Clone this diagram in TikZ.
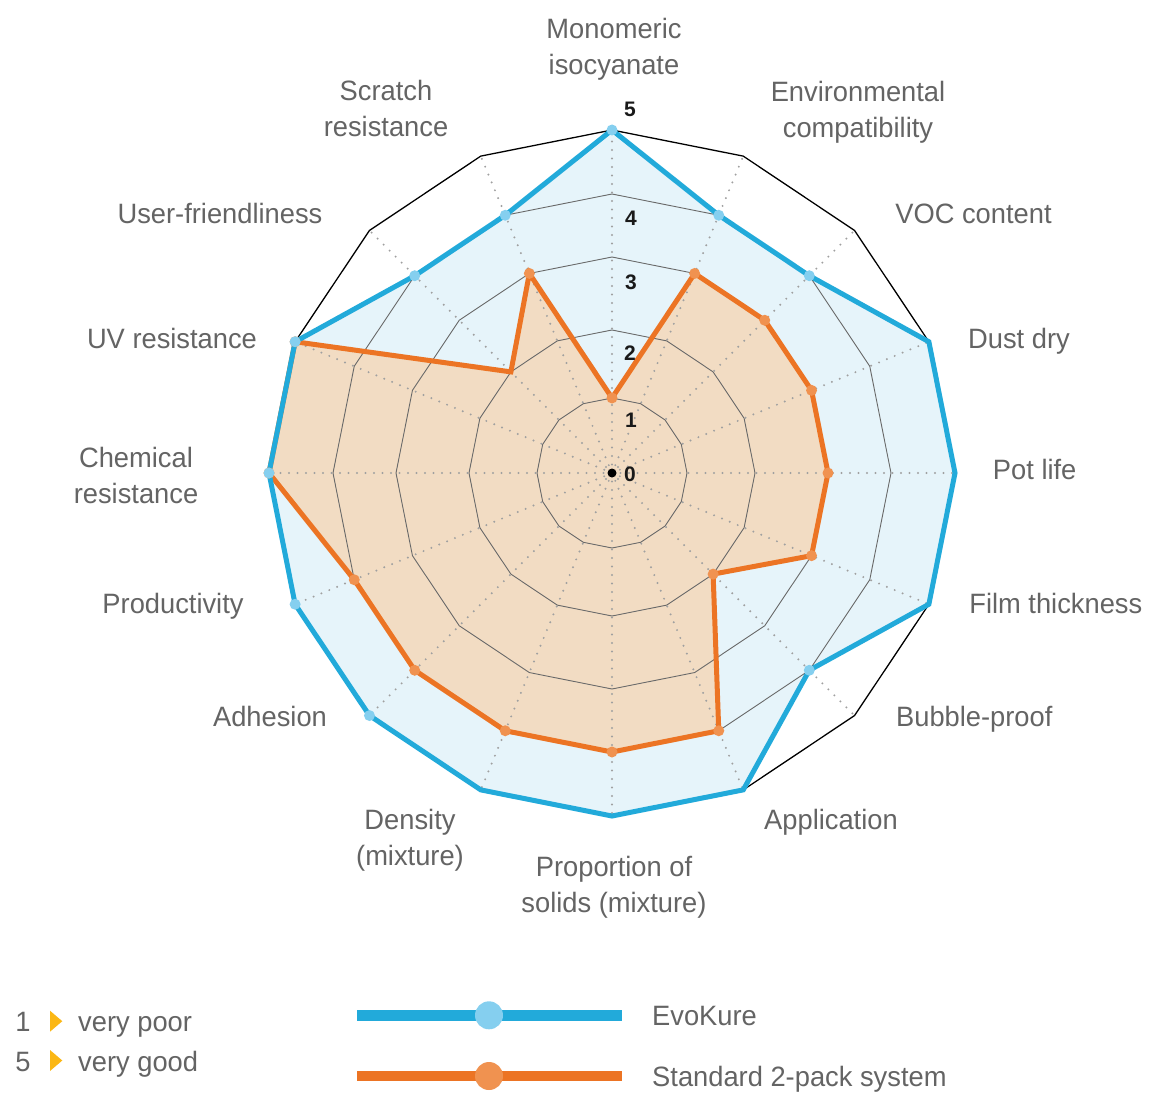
\documentclass[tikz,border=0pt]{standalone}
\usepackage{fontspec}
\setmainfont{Liberation Sans}
\newfontfamily\lblfont{Liberation Sans}[FakeStretch=0.975]
\newfontfamily\numfont{Liberation Sans}
\definecolor{bline}{RGB}{34,170,218}
\definecolor{bmark}{RGB}{133,207,239}
\definecolor{bfill}{RGB}{230,244,250}
\definecolor{oline}{RGB}{236,116,36}
\definecolor{omark}{RGB}{240,146,80}
\definecolor{ofill}{RGB}{242,220,195}
\definecolor{txt}{RGB}{100,100,100}
\definecolor{tri}{RGB}{251,183,20}
\definecolor{ringc}{RGB}{105,105,105}
\definecolor{dotc}{RGB}{160,160,160}
\begin{document}
\begin{tikzpicture}[x=1pt,y=-1pt,
  lbl/.style={font=\lblfont\fontsize{28}{36}\selectfont, text=txt, align=center, inner sep=0pt},
  num/.style={font=\numfont\bfseries\fontsize{21}{24}\selectfont, text=black!90, inner sep=0pt},
  ringline/.style={draw=ringc, line width=0.9pt},
  outerring/.style={draw=black, line width=1.3pt},
  dotline/.style={draw=dotc, line width=2.2pt, dash pattern=on 0pt off 8.5pt, line cap=round},
  bseries/.style={draw=bline, line width=5pt, line join=miter},
  oseries/.style={draw=oline, line width=5pt, line join=miter},
  bdot/.style={fill=bmark},
  odot/.style={fill=omark}]
\useasboundingbox (0,0) rectangle (1168,1097);
\coordinate (C) at (612,473);
% outer ring vertices
\foreach \k in {0,...,15}{\path (C) ++({22.5*\k-90}:343) coordinate (R\k);}
% series points
\foreach \k/\r in {0/343,1/279,2/279,3/343,4/343,5/343,6/279,7/343,8/343,9/343,10/343,11/343,12/343,13/343,14/279,15/279}
  {\path (C) ++({22.5*\k-90}:\r) coordinate (B\k);}
\foreach \k/\r in {0/75,1/216,2/216,3/216,4/216,5/216,6/143,7/279,8/279,9/279,10/279,11/279,12/343,13/343,14/143,15/216}
  {\path (C) ++({22.5*\k-90}:\r) coordinate (O\k);}
% fills
\fill[bfill] (B0) \foreach \k in {1,...,15}{ -- (B\k)} -- cycle;
\fill[ofill] (O0) \foreach \k in {1,...,15}{ -- (O\k)} -- cycle;
% rings
\foreach \r in {75,143,216,279}{
  \draw[ringline, shift={(612,473)}] (-90:\r) \foreach \k in {1,...,15}{ -- ({22.5*\k-90}:\r)} -- cycle;}
\draw[outerring] (R0) \foreach \k in {1,...,15}{ -- (R\k)} -- cycle;
% radial dotted axes
\foreach \k in {0,...,15}{\draw[dotline] (C) -- (R\k);}
% series lines
\draw[oseries] (O0) \foreach \k in {1,...,15}{ -- (O\k)} -- cycle;
\draw[bseries] (B0) \foreach \k in {1,...,15}{ -- (B\k)} -- cycle;
% markers
\foreach \k in {0,1,2,3,4,5,6,7,8,9,10,11,12,13,15}{\fill[odot] (O\k) circle (5.5);}
\foreach \k in {0,1,2,6,10,11,12,13,14,15}{\fill[bdot] (B\k) circle (5.5);}
% centre dot and scale
\fill[black] (C) circle (4.5);
\node[num] (s0) at (630,474) {0};
\node[num] (s1) at (631,420) {1};
\node[num] (s2) at (630,353) {2};
\node[num] (s3) at (631,282) {3};
\node[num] (s4) at (631,218) {4};
\node[num] (s5) at (630,109) {5};
% axis labels
\node[lbl] (l0) at (614,49) {Monomeric\\isocyanate};
\node[lbl] (l1) at (858,112) {Environmental\\compatibility};
\node[lbl, anchor=base] (l2) at (973.5,223) {VOC content};
\node[lbl, anchor=base] (l3) at (1019,348) {Dust dry};
\node[lbl, anchor=base] (l4) at (1034.7,479) {Pot life};
\node[lbl, anchor=base] (l5) at (1055.8,613) {Film thickness};
\node[lbl, anchor=base] (l6) at (974.3,726) {Bubble-proof};
\node[lbl, anchor=base] (l7) at (831,829) {Application};
\node[lbl] (l8) at (614,887) {Proportion of\\solids (mixture)};
\node[lbl] (l9) at (410,840) {Density\\(mixture)};
\node[lbl, anchor=base] (l10) at (270,726) {Adhesion};
\node[lbl, anchor=base] (l11) at (173,613) {Productivity};
\node[lbl] (l12) at (136,475) {Chemical\\resistance};
\node[lbl, anchor=base] (l13) at (172,348) {UV resistance};
\node[lbl, anchor=base] (l14) at (220,223) {User-friendliness};
\node[lbl] (l15) at (386,108) {Scratch\\resistance};
% legend: scale
\node[lbl, anchor=base] (g1) at (23,1031) {1};
\fill[tri] (50,1010.7) -- (62.3,1021.2) -- (50,1031.7) -- cycle;
\node[lbl, anchor=base west] (gpoor) at (78,1031) {very poor};
\node[lbl, anchor=base] (g5) at (23,1071) {5};
\fill[tri] (50,1050) -- (62.3,1060.5) -- (50,1071) -- cycle;
\node[lbl, anchor=base west] (ggood) at (78,1071) {very good};
% legend: series
\coordinate (lb1) at (357,1015.3);
\coordinate (lb2) at (622,1015.3);
\coordinate (lbm) at (489,1015.3);
\draw[bline, line width=10.7pt] (lb1) -- (lb2);
\fill[bdot] (lbm) circle (14);
\node[lbl, anchor=base west] (gevo) at (652,1025) {EvoKure};
\coordinate (lo1) at (357,1076);
\coordinate (lo2) at (622,1076);
\coordinate (lom) at (489,1076);
\draw[oline, line width=10.7pt] (lo1) -- (lo2);
\fill[odot] (lom) circle (14);
\node[lbl, anchor=base west] (gstd) at (652,1086) {Standard 2-pack system};
\end{tikzpicture}
\end{document}
